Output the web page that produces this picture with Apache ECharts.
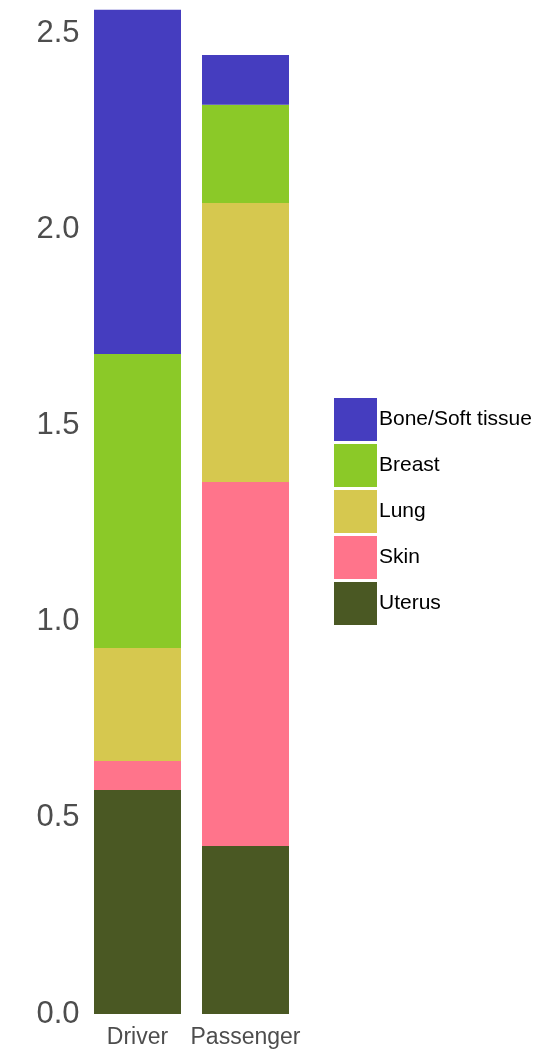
<!DOCTYPE html>
<html><head><meta charset="utf-8">
<script src="https://cdn.jsdelivr.net/npm/echarts@6/dist/echarts.min.js"></script>
<style>html,body{margin:0;padding:0;background:#fff}#c{width:549px;height:1060px}</style>
</head><body><div id="c"></div>
<script>
const categories = ['Driver', 'Passenger'];
const seriesNames = ['Uterus', 'Skin', 'Lung', 'Breast', 'Bone/Soft tissue'];
const uterus = [0.571, 0.428];
const skin = [0.074, 0.928];
const lung = [0.288, 0.711];
const breast = [0.749, 0.250];
const bone = [0.877, 0.127];
const colors = {
  'Uterus': '#4a5823',
  'Skin': '#ff748b',
  'Lung': '#d6c84f',
  'Breast': '#8bc928',
  'Bone/Soft tissue': '#453dbf'
};
const legendOrder = ['Bone/Soft tissue', 'Breast', 'Lung', 'Skin', 'Uterus'];
const values = [uterus, skin, lung, breast, bone];
const font = 'Liberation Sans, Arial, sans-serif';

const chart = echarts.init(document.getElementById('c'));
chart.setOption({
  animation: false,
  grid: { left: 83.5, width: 216, top: 1.6, bottom: 46, containLabel: false },
  xAxis: {
    type: 'category', data: categories,
    axisLine: { show: false }, axisTick: { show: false },
    axisLabel: { interval: 0, fontSize: 23, color: '#4d4d4d', fontFamily: font, margin: 12 }
  },
  yAxis: {
    type: 'value', min: 0, max: 2.58, interval: 0.5,
    splitLine: { show: false }, axisLine: { show: false }, axisTick: { show: false },
    axisLabel: { fontSize: 31, color: '#4d4d4d', fontFamily: font, margin: 4, showMaxLabel: false,
      formatter: v => v.toFixed(1) }
  },
  legend: {
    orient: 'vertical', left: 334, top: 398, padding: 0,
    itemWidth: 43, itemHeight: 43, itemGap: 3, icon: 'rect',
    data: legendOrder,
    textStyle: { fontSize: 21, color: '#000', fontFamily: font, padding: [3, 0, 0, -3] }
  },
  series: seriesNames.map((n, i) => ({
    name: n, type: 'bar', stack: 'total', barWidth: 87,
    itemStyle: { color: colors[n] },
    data: values[i]
  }))
});
</script></body></html>
